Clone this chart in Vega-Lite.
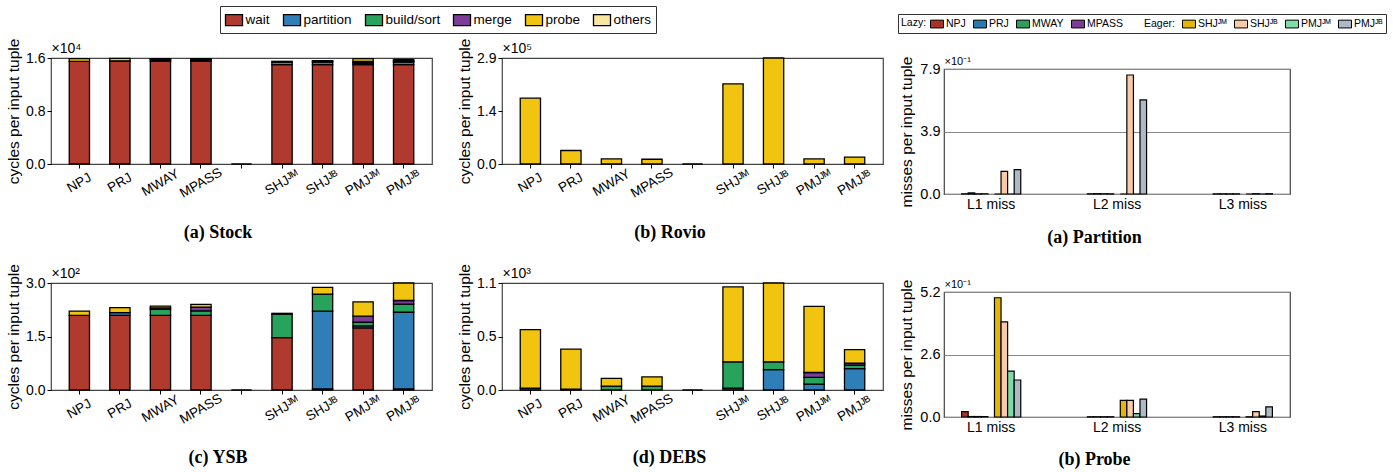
{
  "$schema": "https://vega.github.io/schema/vega-lite/v6.json",
  "background": "white",
  "padding": {"left": 5, "top": 5, "right": 5, "bottom": 5},
  "spacing": 13,
  "config": {
    "font": "Liberation Sans",
    "view": {"stroke": "#444", "strokeWidth": 1.2},
    "axis": {"labelColor": "black", "titleColor": "black", "tickColor": "black", "domain": false, "grid": false, "labelFont": "Liberation Sans", "titleFont": "Liberation Sans", "titleFontWeight": "normal", "labelOverlap": false},
    "title": {"font": "Liberation Sans", "fontWeight": "normal", "color": "black", "anchor": "start", "frame": "group", "fontSize": 14}
  },
  "resolve": {"scale": {"fill": "independent"}, "legend": {"fill": "independent"}},
  "datasets": {
    "stock": [
      {"algo": "NPJ", "comp": "wait", "value": 1.55}, {"algo": "NPJ", "comp": "probe", "value": 0.04},
      {"algo": "PRJ", "comp": "wait", "value": 1.55}, {"algo": "PRJ", "comp": "partition", "value": 0.005}, {"algo": "PRJ", "comp": "probe", "value": 0.04},
      {"algo": "MWAY", "comp": "wait", "value": 1.55}, {"algo": "MWAY", "comp": "build/sort", "value": 0.02}, {"algo": "MWAY", "comp": "merge", "value": 0.01}, {"algo": "MWAY", "comp": "probe", "value": 0.01},
      {"algo": "MPASS", "comp": "wait", "value": 1.55}, {"algo": "MPASS", "comp": "build/sort", "value": 0.02}, {"algo": "MPASS", "comp": "merge", "value": 0.01}, {"algo": "MPASS", "comp": "probe", "value": 0.01},
      {"algo": " ", "comp": "wait", "value": 0},
      {"algo": "SHJᴶᴹ", "comp": "wait", "value": 1.5}, {"algo": "SHJᴶᴹ", "comp": "build/sort", "value": 0.04}, {"algo": "SHJᴶᴹ", "comp": "probe", "value": 0.01},
      {"algo": "SHJᴶᴮ", "comp": "wait", "value": 1.5}, {"algo": "SHJᴶᴮ", "comp": "partition", "value": 0.04}, {"algo": "SHJᴶᴮ", "comp": "build/sort", "value": 0.01}, {"algo": "SHJᴶᴮ", "comp": "probe", "value": 0.01},
      {"algo": "PMJᴶᴹ", "comp": "wait", "value": 1.5}, {"algo": "PMJᴶᴹ", "comp": "partition", "value": 0.01}, {"algo": "PMJᴶᴹ", "comp": "build/sort", "value": 0.02}, {"algo": "PMJᴶᴹ", "comp": "merge", "value": 0.02}, {"algo": "PMJᴶᴹ", "comp": "probe", "value": 0.04},
      {"algo": "PMJᴶᴮ", "comp": "wait", "value": 1.5}, {"algo": "PMJᴶᴮ", "comp": "partition", "value": 0.04}, {"algo": "PMJᴶᴮ", "comp": "build/sort", "value": 0.01}, {"algo": "PMJᴶᴮ", "comp": "merge", "value": 0.01}, {"algo": "PMJᴶᴮ", "comp": "probe", "value": 0.02}
    ],
    "rovio": [
      {"algo": "NPJ", "comp": "probe", "value": 1.8},
      {"algo": "PRJ", "comp": "probe", "value": 0.37},
      {"algo": "MWAY", "comp": "probe", "value": 0.14},
      {"algo": "MPASS", "comp": "probe", "value": 0.13},
      {"algo": " ", "comp": "wait", "value": 0},
      {"algo": "SHJᴶᴹ", "comp": "probe", "value": 2.19},
      {"algo": "SHJᴶᴮ", "comp": "probe", "value": 2.9},
      {"algo": "PMJᴶᴹ", "comp": "probe", "value": 0.14},
      {"algo": "PMJᴶᴮ", "comp": "probe", "value": 0.19}
    ],
    "ysb": [
      {"algo": "NPJ", "comp": "wait", "value": 2.09}, {"algo": "NPJ", "comp": "probe", "value": 0.12},
      {"algo": "PRJ", "comp": "wait", "value": 2.09}, {"algo": "PRJ", "comp": "partition", "value": 0.08}, {"algo": "PRJ", "comp": "probe", "value": 0.14},
      {"algo": "MWAY", "comp": "wait", "value": 2.09}, {"algo": "MWAY", "comp": "build/sort", "value": 0.17}, {"algo": "MWAY", "comp": "merge", "value": 0.04}, {"algo": "MWAY", "comp": "probe", "value": 0.05},
      {"algo": "MPASS", "comp": "wait", "value": 2.09}, {"algo": "MPASS", "comp": "build/sort", "value": 0.13}, {"algo": "MPASS", "comp": "merge", "value": 0.1}, {"algo": "MPASS", "comp": "probe", "value": 0.08},
      {"algo": " ", "comp": "wait", "value": 0},
      {"algo": "SHJᴶᴹ", "comp": "wait", "value": 1.47}, {"algo": "SHJᴶᴹ", "comp": "build/sort", "value": 0.66}, {"algo": "SHJᴶᴹ", "comp": "probe", "value": 0.02},
      {"algo": "SHJᴶᴮ", "comp": "wait", "value": 0.03}, {"algo": "SHJᴶᴮ", "comp": "partition", "value": 2.18}, {"algo": "SHJᴶᴮ", "comp": "build/sort", "value": 0.48}, {"algo": "SHJᴶᴮ", "comp": "probe", "value": 0.19},
      {"algo": "PMJᴶᴹ", "comp": "wait", "value": 1.74}, {"algo": "PMJᴶᴹ", "comp": "partition", "value": 0.06}, {"algo": "PMJᴶᴹ", "comp": "build/sort", "value": 0.1}, {"algo": "PMJᴶᴹ", "comp": "merge", "value": 0.17}, {"algo": "PMJᴶᴹ", "comp": "probe", "value": 0.4},
      {"algo": "PMJᴶᴮ", "comp": "wait", "value": 0.03}, {"algo": "PMJᴶᴮ", "comp": "partition", "value": 2.15}, {"algo": "PMJᴶᴮ", "comp": "build/sort", "value": 0.23}, {"algo": "PMJᴶᴮ", "comp": "merge", "value": 0.1}, {"algo": "PMJᴶᴮ", "comp": "probe", "value": 0.49}
    ],
    "debs": [
      {"algo": "NPJ", "comp": "build/sort", "value": 0.02}, {"algo": "NPJ", "comp": "probe", "value": 0.6},
      {"algo": "PRJ", "comp": "partition", "value": 0.01}, {"algo": "PRJ", "comp": "probe", "value": 0.41},
      {"algo": "MWAY", "comp": "build/sort", "value": 0.04}, {"algo": "MWAY", "comp": "probe", "value": 0.08},
      {"algo": "MPASS", "comp": "build/sort", "value": 0.04}, {"algo": "MPASS", "comp": "probe", "value": 0.095},
      {"algo": " ", "comp": "wait", "value": 0},
      {"algo": "SHJᴶᴹ", "comp": "partition", "value": 0.02}, {"algo": "SHJᴶᴹ", "comp": "build/sort", "value": 0.27}, {"algo": "SHJᴶᴹ", "comp": "probe", "value": 0.77},
      {"algo": "SHJᴶᴮ", "comp": "partition", "value": 0.21}, {"algo": "SHJᴶᴮ", "comp": "build/sort", "value": 0.08}, {"algo": "SHJᴶᴮ", "comp": "probe", "value": 0.81},
      {"algo": "PMJᴶᴹ", "comp": "partition", "value": 0.06}, {"algo": "PMJᴶᴹ", "comp": "build/sort", "value": 0.07}, {"algo": "PMJᴶᴹ", "comp": "merge", "value": 0.05}, {"algo": "PMJᴶᴹ", "comp": "probe", "value": 0.68},
      {"algo": "PMJᴶᴮ", "comp": "partition", "value": 0.22}, {"algo": "PMJᴶᴮ", "comp": "build/sort", "value": 0.035}, {"algo": "PMJᴶᴮ", "comp": "merge", "value": 0.02}, {"algo": "PMJᴶᴮ", "comp": "probe", "value": 0.14}
    ],
    "partition": [
      {"miss": "L1 miss", "algo": "NPJ", "value": 0.01}, {"miss": "L1 miss", "algo": "PRJ", "value": 0.07}, {"miss": "L1 miss", "algo": "MWAY", "value": 0.01}, {"miss": "L1 miss", "algo": "MPASS", "value": 0.01},
      {"miss": "L1 miss", "algo": "SHJᴶᴹ", "value": 0}, {"miss": "L1 miss", "algo": "SHJᴶᴮ", "value": 1.43}, {"miss": "L1 miss", "algo": "PMJᴶᴹ", "value": 0}, {"miss": "L1 miss", "algo": "PMJᴶᴮ", "value": 1.54},
      {"miss": "L2 miss", "algo": "NPJ", "value": 0.01}, {"miss": "L2 miss", "algo": "PRJ", "value": 0.02}, {"miss": "L2 miss", "algo": "MWAY", "value": 0.01}, {"miss": "L2 miss", "algo": "MPASS", "value": 0.01},
      {"miss": "L2 miss", "algo": "SHJᴶᴹ", "value": 0}, {"miss": "L2 miss", "algo": "SHJᴶᴮ", "value": 7.52}, {"miss": "L2 miss", "algo": "PMJᴶᴹ", "value": 0}, {"miss": "L2 miss", "algo": "PMJᴶᴮ", "value": 5.95},
      {"miss": "L3 miss", "algo": "NPJ", "value": 0.01}, {"miss": "L3 miss", "algo": "PRJ", "value": 0.01}, {"miss": "L3 miss", "algo": "MWAY", "value": 0.01}, {"miss": "L3 miss", "algo": "MPASS", "value": 0.01},
      {"miss": "L3 miss", "algo": "SHJᴶᴹ", "value": 0}, {"miss": "L3 miss", "algo": "SHJᴶᴮ", "value": 0.02}, {"miss": "L3 miss", "algo": "PMJᴶᴹ", "value": 0}, {"miss": "L3 miss", "algo": "PMJᴶᴮ", "value": 0.02}
    ],
    "probe": [
      {"miss": "L1 miss", "algo": "NPJ", "value": 0.22}, {"miss": "L1 miss", "algo": "PRJ", "value": 0.02}, {"miss": "L1 miss", "algo": "MWAY", "value": 0.02}, {"miss": "L1 miss", "algo": "MPASS", "value": 0.02},
      {"miss": "L1 miss", "algo": "SHJᴶᴹ", "value": 4.96}, {"miss": "L1 miss", "algo": "SHJᴶᴮ", "value": 3.96}, {"miss": "L1 miss", "algo": "PMJᴶᴹ", "value": 1.91}, {"miss": "L1 miss", "algo": "PMJᴶᴮ", "value": 1.54},
      {"miss": "L2 miss", "algo": "NPJ", "value": 0.01}, {"miss": "L2 miss", "algo": "PRJ", "value": 0.01}, {"miss": "L2 miss", "algo": "MWAY", "value": 0.01}, {"miss": "L2 miss", "algo": "MPASS", "value": 0.01},
      {"miss": "L2 miss", "algo": "SHJᴶᴹ", "value": 0.69}, {"miss": "L2 miss", "algo": "SHJᴶᴮ", "value": 0.69}, {"miss": "L2 miss", "algo": "PMJᴶᴹ", "value": 0.14}, {"miss": "L2 miss", "algo": "PMJᴶᴮ", "value": 0.74},
      {"miss": "L3 miss", "algo": "NPJ", "value": 0.01}, {"miss": "L3 miss", "algo": "PRJ", "value": 0.01}, {"miss": "L3 miss", "algo": "MWAY", "value": 0.01}, {"miss": "L3 miss", "algo": "MPASS", "value": 0.01},
      {"miss": "L3 miss", "algo": "SHJᴶᴹ", "value": 0.01}, {"miss": "L3 miss", "algo": "SHJᴶᴮ", "value": 0.22}, {"miss": "L3 miss", "algo": "PMJᴶᴹ", "value": 0.04}, {"miss": "L3 miss", "algo": "PMJᴶᴮ", "value": 0.42}
    ]
  },
  "hconcat": [
    {
      "bounds": "flush",
      "columns": 2,
      "spacing": {"row": 119, "column": 70},
      "resolve": {"scale": {"fill": "shared"}, "legend": {"fill": "shared"}},
      "concat": [
        {
          "width": 381, "height": 106,
          "data": {"name": "stock"},
          "transform": [{"calculate": "indexof(['wait','partition','build/sort','merge','probe','others'], datum.comp)", "as": "stackorder"}],
          "resolve": {"axis": {"y": "independent"}},
          "layer": [
            {
              "mark": {"type": "bar", "stroke": "black", "strokeWidth": 1.3},
              "encoding": {
                "x": {"field": "algo", "type": "nominal", "scale": {"domain": ["NPJ", "PRJ", "MWAY", "MPASS", " ", "SHJᴶᴹ", "SHJᴶᴮ", "PMJᴶᴹ", "PMJᴶᴮ"], "paddingInner": 0.5, "paddingOuter": 0.45},
                  "axis": {"title": "(a) Stock", "titleFont": "Liberation Serif", "titleFontWeight": "bold", "titleFontSize": 18, "titleX": 166.5, "titleY": 68, "titleAlign": "center", "titleBaseline": "middle", "titleAngle": 0, "labelAngle": -30, "labelAlign": "center", "labelBaseline": "middle", "labelPadding": 14.5, "labelFontSize": 13.5, "tickSize": 4}},
                "y": {"field": "value", "type": "quantitative", "stack": "zero", "scale": {"domain": [0, 1.6], "nice": false},
                  "axis": {"title": "cycles per input tuple", "titleFontSize": 15.5, "titleX": -30, "values": [0, 0.8, 1.6], "labelExpr": "format(datum.value, '.1f')", "labelFontSize": 14, "tickSize": 4, "labelPadding": 2}},
                "order": {"field": "stackorder", "type": "quantitative"},
                "fill": {"field": "comp", "type": "nominal",
                  "scale": {"domain": ["wait", "partition", "build/sort", "merge", "probe", "others"], "range": ["#b03a2e", "#2e7fb8", "#27a35c", "#7d3c98", "#f1c40f", "#f9e79f"]},
                  "legend": {"orient": "none", "legendX": 169, "legendY": -52, "direction": "horizontal", "columns": 6, "title": " ", "titleOrient": "left", "titlePadding": 0, "titleFontSize": 13.5, "symbolType": "M-1,-0.65H1V0.65H-1Z", "symbolSize": 289, "symbolStrokeColor": "black", "symbolStrokeWidth": 1.3, "symbolOpacity": 1, "labelFont": "Liberation Sans", "labelFontSize": 13.5, "labelColor": "black", "labelOffset": 2, "columnPadding": 10, "padding": 4.5, "strokeColor": "#333", "fillColor": "white", "labelExpr": "datum.label == 'others' ? 'others     ' : datum.label"}}
              }
            },
            {
              "mark": {"type": "point", "opacity": 0},
              "encoding": {"y": {"field": "value", "type": "quantitative", "scale": {"domain": [0, 1.6], "nice": false},
                "axis": {"orient": "left", "title": "×10⁴", "titleAngle": 0, "titleX": 0, "titleY": -3, "titleAlign": "left", "titleBaseline": "bottom", "titleFontSize": 14, "labels": false, "ticks": false, "grid": false}}}
            }
          ]
        },
        {
          "width": 381, "height": 106,
          "data": {"name": "rovio"},
          "transform": [{"calculate": "indexof(['wait','partition','build/sort','merge','probe','others'], datum.comp)", "as": "stackorder"}],
          "resolve": {"axis": {"y": "independent"}},
          "layer": [
            {
              "mark": {"type": "bar", "stroke": "black", "strokeWidth": 1.3},
              "encoding": {
                "x": {"field": "algo", "type": "nominal", "scale": {"domain": ["NPJ", "PRJ", "MWAY", "MPASS", " ", "SHJᴶᴹ", "SHJᴶᴮ", "PMJᴶᴹ", "PMJᴶᴮ"], "paddingInner": 0.5, "paddingOuter": 0.45},
                  "axis": {"title": "(b) Rovio", "titleFont": "Liberation Serif", "titleFontWeight": "bold", "titleFontSize": 18, "titleX": 167.5, "titleY": 68, "titleAlign": "center", "titleBaseline": "middle", "titleAngle": 0, "labelAngle": -30, "labelAlign": "center", "labelBaseline": "middle", "labelPadding": 14.5, "labelFontSize": 13.5, "tickSize": 4}},
                "y": {"field": "value", "type": "quantitative", "stack": "zero", "scale": {"domain": [0, 2.9], "nice": false},
                  "axis": {"title": "cycles per input tuple", "titleFontSize": 15.5, "titleX": -30, "values": [0, 1.45, 2.9], "labelExpr": "datum.value == 0 ? '0.0' : datum.value < 2 ? '1.4' : '2.9'", "labelFontSize": 14, "tickSize": 4, "labelPadding": 2}},
                "order": {"field": "stackorder", "type": "quantitative"},
                "fill": {"field": "comp", "type": "nominal",
                  "scale": {"domain": ["wait", "partition", "build/sort", "merge", "probe", "others"], "range": ["#b03a2e", "#2e7fb8", "#27a35c", "#7d3c98", "#f1c40f", "#f9e79f"]},
                  "legend": {"orient": "none", "legendX": 169, "legendY": -52, "direction": "horizontal", "columns": 6, "title": " ", "titleOrient": "left", "titlePadding": 0, "titleFontSize": 13.5, "symbolType": "M-1,-0.65H1V0.65H-1Z", "symbolSize": 289, "symbolStrokeColor": "black", "symbolStrokeWidth": 1.3, "symbolOpacity": 1, "labelFont": "Liberation Sans", "labelFontSize": 13.5, "labelColor": "black", "labelOffset": 2, "columnPadding": 10, "padding": 4.5, "strokeColor": "#333", "fillColor": "white", "labelExpr": "datum.label == 'others' ? 'others     ' : datum.label"}}
              }
            },
            {
              "mark": {"type": "point", "opacity": 0},
              "encoding": {"y": {"field": "value", "type": "quantitative", "scale": {"domain": [0, 2.9], "nice": false},
                "axis": {"orient": "left", "title": "×10⁵", "titleAngle": 0, "titleX": 0, "titleY": -3, "titleAlign": "left", "titleBaseline": "bottom", "titleFontSize": 14, "labels": false, "ticks": false, "grid": false}}}
            }
          ]
        },
        {
          "width": 381, "height": 107,
          "data": {"name": "ysb"},
          "transform": [{"calculate": "indexof(['wait','partition','build/sort','merge','probe','others'], datum.comp)", "as": "stackorder"}],
          "resolve": {"axis": {"y": "independent"}},
          "layer": [
            {
              "mark": {"type": "bar", "stroke": "black", "strokeWidth": 1.3},
              "encoding": {
                "x": {"field": "algo", "type": "nominal", "scale": {"domain": ["NPJ", "PRJ", "MWAY", "MPASS", " ", "SHJᴶᴹ", "SHJᴶᴮ", "PMJᴶᴹ", "PMJᴶᴮ"], "paddingInner": 0.5, "paddingOuter": 0.45},
                  "axis": {"title": "(c) YSB", "titleFont": "Liberation Serif", "titleFontWeight": "bold", "titleFontSize": 18, "titleX": 166.5, "titleY": 67, "titleAlign": "center", "titleBaseline": "middle", "titleAngle": 0, "labelAngle": -30, "labelAlign": "center", "labelBaseline": "middle", "labelPadding": 14.5, "labelFontSize": 13.5, "tickSize": 4}},
                "y": {"field": "value", "type": "quantitative", "stack": "zero", "scale": {"domain": [0, 3.0], "nice": false},
                  "axis": {"title": "cycles per input tuple", "titleFontSize": 15.5, "titleX": -30, "values": [0, 1.5, 3.0], "labelExpr": "format(datum.value, '.1f')", "labelFontSize": 14, "tickSize": 4, "labelPadding": 2}},
                "order": {"field": "stackorder", "type": "quantitative"},
                "fill": {"field": "comp", "type": "nominal",
                  "scale": {"domain": ["wait", "partition", "build/sort", "merge", "probe", "others"], "range": ["#b03a2e", "#2e7fb8", "#27a35c", "#7d3c98", "#f1c40f", "#f9e79f"]},
                  "legend": {"orient": "none", "legendX": 169, "legendY": -52, "direction": "horizontal", "columns": 6, "title": " ", "titleOrient": "left", "titlePadding": 0, "titleFontSize": 13.5, "symbolType": "M-1,-0.65H1V0.65H-1Z", "symbolSize": 289, "symbolStrokeColor": "black", "symbolStrokeWidth": 1.3, "symbolOpacity": 1, "labelFont": "Liberation Sans", "labelFontSize": 13.5, "labelColor": "black", "labelOffset": 2, "columnPadding": 10, "padding": 4.5, "strokeColor": "#333", "fillColor": "white", "labelExpr": "datum.label == 'others' ? 'others     ' : datum.label"}}
              }
            },
            {
              "mark": {"type": "point", "opacity": 0},
              "encoding": {"y": {"field": "value", "type": "quantitative", "scale": {"domain": [0, 3.0], "nice": false},
                "axis": {"orient": "left", "title": "×10²", "titleAngle": 0, "titleX": 0, "titleY": -3, "titleAlign": "left", "titleBaseline": "bottom", "titleFontSize": 14, "labels": false, "ticks": false, "grid": false}}}
            }
          ]
        },
        {
          "width": 381, "height": 107,
          "data": {"name": "debs"},
          "transform": [{"calculate": "indexof(['wait','partition','build/sort','merge','probe','others'], datum.comp)", "as": "stackorder"}],
          "resolve": {"axis": {"y": "independent"}},
          "layer": [
            {
              "mark": {"type": "bar", "stroke": "black", "strokeWidth": 1.3},
              "encoding": {
                "x": {"field": "algo", "type": "nominal", "scale": {"domain": ["NPJ", "PRJ", "MWAY", "MPASS", " ", "SHJᴶᴹ", "SHJᴶᴮ", "PMJᴶᴹ", "PMJᴶᴮ"], "paddingInner": 0.5, "paddingOuter": 0.45},
                  "axis": {"title": "(d) DEBS", "titleFont": "Liberation Serif", "titleFontWeight": "bold", "titleFontSize": 18, "titleX": 167, "titleY": 67, "titleAlign": "center", "titleBaseline": "middle", "titleAngle": 0, "labelAngle": -30, "labelAlign": "center", "labelBaseline": "middle", "labelPadding": 14.5, "labelFontSize": 13.5, "tickSize": 4}},
                "y": {"field": "value", "type": "quantitative", "stack": "zero", "scale": {"domain": [0, 1.1], "nice": false},
                  "axis": {"title": "cycles per input tuple", "titleFontSize": 15.5, "titleX": -30, "values": [0, 0.55, 1.1], "labelExpr": "datum.value == 0 ? '0.0' : datum.value < 1 ? '0.5' : '1.1'", "labelFontSize": 14, "tickSize": 4, "labelPadding": 2}},
                "order": {"field": "stackorder", "type": "quantitative"},
                "fill": {"field": "comp", "type": "nominal",
                  "scale": {"domain": ["wait", "partition", "build/sort", "merge", "probe", "others"], "range": ["#b03a2e", "#2e7fb8", "#27a35c", "#7d3c98", "#f1c40f", "#f9e79f"]},
                  "legend": {"orient": "none", "legendX": 169, "legendY": -52, "direction": "horizontal", "columns": 6, "title": " ", "titleOrient": "left", "titlePadding": 0, "titleFontSize": 13.5, "symbolType": "M-1,-0.65H1V0.65H-1Z", "symbolSize": 289, "symbolStrokeColor": "black", "symbolStrokeWidth": 1.3, "symbolOpacity": 1, "labelFont": "Liberation Sans", "labelFontSize": 13.5, "labelColor": "black", "labelOffset": 2, "columnPadding": 10, "padding": 4.5, "strokeColor": "#333", "fillColor": "white", "labelExpr": "datum.label == 'others' ? 'others     ' : datum.label"}}
              }
            },
            {
              "mark": {"type": "point", "opacity": 0},
              "encoding": {"y": {"field": "value", "type": "quantitative", "scale": {"domain": [0, 1.1], "nice": false},
                "axis": {"orient": "left", "title": "×10³", "titleAngle": 0, "titleX": 0, "titleY": -3, "titleAlign": "left", "titleBaseline": "bottom", "titleFontSize": 14, "labels": false, "ticks": false, "grid": false}}}
            }
          ]
        }
      ]
    },
    {
      "bounds": "flush",
      "spacing": 5,
      "resolve": {"scale": {"fill": "shared"}, "legend": {"fill": "shared"}},
      "vconcat": [
        {
          "width": 346, "height": 6,
          "view": {"stroke": null},
          "data": {"values": []},
          "mark": "rule",
          "encoding": {}
        },
        {
          "width": 346, "height": 125,
          "data": {"name": "partition"},
          "resolve": {"axis": {"y": "independent"}},
          "layer": [
            {
              "mark": {"type": "bar", "stroke": "black", "strokeWidth": 1.2},
              "encoding": {
                "x": {"field": "miss", "type": "nominal", "scale": {"domain": ["L1 miss", "L2 miss", "L3 miss"], "paddingInner": 0.53, "paddingOuter": 0.14},
                  "axis": {"title": "(a) Partition", "titleFont": "Liberation Serif", "titleFontWeight": "bold", "titleFontSize": 18, "titleX": 150, "titleY": 43, "titleAlign": "center", "titleBaseline": "middle", "titleAngle": 0, "labelAngle": 0, "labelFontSize": 14, "labelPadding": 3, "ticks": false}},
                "xOffset": {"field": "algo", "type": "nominal", "scale": {"domain": ["NPJ", "PRJ", "MWAY", "MPASS", " ", "SHJᴶᴹ", "SHJᴶᴮ", "PMJᴶᴹ", "PMJᴶᴮ"], "paddingInner": 0, "paddingOuter": 0}},
                "y": {"field": "value", "type": "quantitative", "scale": {"domain": [0, 7.9], "nice": false},
                  "axis": {"title": "misses per input tuple", "titleFontSize": 15.5, "titleX": -30, "values": [0, 3.95, 7.9], "labelExpr": "datum.value == 0 ? '0.0' : datum.value < 5 ? '3.9' : '7.9'", "labelFontSize": 14.5, "tickSize": 0, "labelPadding": 4, "grid": true, "gridColor": "#888", "gridWidth": 1}},
                "fill": {"field": "algo", "type": "nominal",
                  "scale": {"domain": ["NPJ", "PRJ", "MWAY", "MPASS", "Eager:", "SHJᴶᴹ", "SHJᴶᴮ", "PMJᴶᴹ", "PMJᴶᴮ"], "range": ["#a83226", "#2a7ab0", "#2e9e5b", "#7d3c98", "white", "#e3b505", "#f8cba5", "#7fdcaa", "#aeb9c6"]},
                  "legend": {"orient": "none", "legendX": -46, "legendY": -44, "direction": "horizontal", "columns": 9, "title": "Lazy:", "titleOrient": "left", "titleFont": "Liberation Sans", "titleFontSize": 10.5, "titleFontWeight": "normal", "titleColor": "black", "titlePadding": 3, "symbolType": "M-1,-0.6H1V0.6H-1Z", "symbolSize": 169, "symbolStrokeColor": "black", "symbolStrokeWidth": 1, "symbolOpacity": 1, "labelFont": "Liberation Sans", "labelFontSize": 10.5, "labelColor": "black", "labelOffset": 2, "columnPadding": 5, "padding": 3, "strokeColor": "#333", "fillColor": "white", "labelExpr": "datum.value == 'Eager:' ? '            Eager:' : datum.label",
                    "encode": {"symbols": {"update": {"strokeOpacity": {"signal": "datum.value == 'Eager:' ? 0 : 1"}}}}}}
              }
            },
            {
              "mark": {"type": "point", "opacity": 0},
              "encoding": {"y": {"field": "value", "type": "quantitative", "scale": {"domain": [0, 7.9], "nice": false},
                "axis": {"orient": "left", "title": "×10⁻¹", "titleAngle": 0, "titleX": 0, "titleY": -3, "titleAlign": "left", "titleBaseline": "bottom", "titleFontSize": 11, "labels": false, "ticks": false, "grid": false}}}
            }
          ]
        },
        {
          "width": 346, "height": 88,
          "view": {"stroke": null},
          "data": {"values": []},
          "mark": "rule",
          "encoding": {}
        },
        {
          "width": 346, "height": 125,
          "data": {"name": "probe"},
          "resolve": {"axis": {"y": "independent"}},
          "layer": [
            {
              "mark": {"type": "bar", "stroke": "black", "strokeWidth": 1.2},
              "encoding": {
                "x": {"field": "miss", "type": "nominal", "scale": {"domain": ["L1 miss", "L2 miss", "L3 miss"], "paddingInner": 0.53, "paddingOuter": 0.14},
                  "axis": {"title": "(b) Probe", "titleFont": "Liberation Serif", "titleFontWeight": "bold", "titleFontSize": 18, "titleX": 150, "titleY": 42, "titleAlign": "center", "titleBaseline": "middle", "titleAngle": 0, "labelAngle": 0, "labelFontSize": 14, "labelPadding": 3, "ticks": false}},
                "xOffset": {"field": "algo", "type": "nominal", "scale": {"domain": ["NPJ", "PRJ", "MWAY", "MPASS", " ", "SHJᴶᴹ", "SHJᴶᴮ", "PMJᴶᴹ", "PMJᴶᴮ"], "paddingInner": 0, "paddingOuter": 0}},
                "y": {"field": "value", "type": "quantitative", "scale": {"domain": [0, 5.2], "nice": false},
                  "axis": {"title": "misses per input tuple", "titleFontSize": 15.5, "titleX": -30, "values": [0, 2.6, 5.2], "labelExpr": "format(datum.value, '.1f')", "labelFontSize": 14.5, "tickSize": 0, "labelPadding": 4, "grid": true, "gridColor": "#888", "gridWidth": 1}},
                "fill": {"field": "algo", "type": "nominal",
                  "scale": {"domain": ["NPJ", "PRJ", "MWAY", "MPASS", "Eager:", "SHJᴶᴹ", "SHJᴶᴮ", "PMJᴶᴹ", "PMJᴶᴮ"], "range": ["#a83226", "#2a7ab0", "#2e9e5b", "#7d3c98", "white", "#e3b505", "#f8cba5", "#7fdcaa", "#aeb9c6"]},
                  "legend": {"orient": "none", "legendX": -46, "legendY": -44, "direction": "horizontal", "columns": 9, "title": "Lazy:", "titleOrient": "left", "titleFont": "Liberation Sans", "titleFontSize": 10.5, "titleFontWeight": "normal", "titleColor": "black", "titlePadding": 3, "symbolType": "M-1,-0.6H1V0.6H-1Z", "symbolSize": 169, "symbolStrokeColor": "black", "symbolStrokeWidth": 1, "symbolOpacity": 1, "labelFont": "Liberation Sans", "labelFontSize": 10.5, "labelColor": "black", "labelOffset": 2, "columnPadding": 5, "padding": 3, "strokeColor": "#333", "fillColor": "white", "labelExpr": "datum.value == 'Eager:' ? '            Eager:' : datum.label",
                    "encode": {"symbols": {"update": {"strokeOpacity": {"signal": "datum.value == 'Eager:' ? 0 : 1"}}}}}}
              }
            },
            {
              "mark": {"type": "point", "opacity": 0},
              "encoding": {"y": {"field": "value", "type": "quantitative", "scale": {"domain": [0, 5.2], "nice": false},
                "axis": {"orient": "left", "title": "×10⁻¹", "titleAngle": 0, "titleX": 0, "titleY": -3, "titleAlign": "left", "titleBaseline": "bottom", "titleFontSize": 11, "labels": false, "ticks": false, "grid": false}}}
            }
          ]
        }
      ]
    }
  ]
}
